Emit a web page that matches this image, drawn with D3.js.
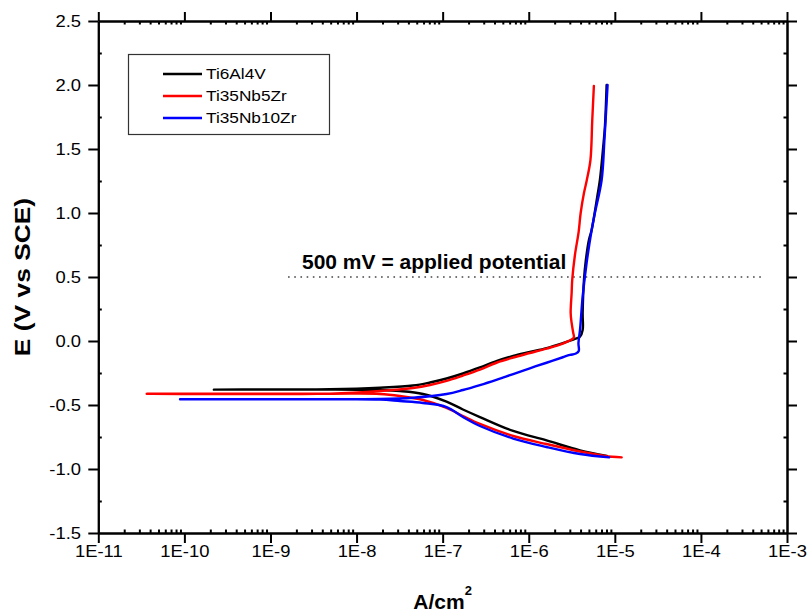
<!DOCTYPE html>
<html><head><meta charset="utf-8">
<script src="https://cdn.jsdelivr.net/npm/d3@7/dist/d3.min.js"></script>
<style>body{margin:0;background:#fff}svg{display:block}</style>
</head><body><svg id="c" width="810" height="615"></svg>
<script>
// ---------- data ----------
const seriesNames = ["Ti6Al4V", "Ti35Nb5Zr", "Ti35Nb10Zr"];
const seriesColors = ["#000000", "#ff0000", "#0000ff"];

// Ti6Al4V (scan order: cathodic -> anodic)
const ti64_E = [-0.898, -0.854, -0.777, -0.703, -0.594, -0.535, -0.474, -0.414, -0.391, -0.383, -0.379, -0.380, -0.380,
  -0.379, -0.377, -0.365, -0.348, -0.324, -0.293, -0.254, -0.207, -0.156, -0.117, -0.086, -0.055, -0.016, 0.016, 0.034,
  0.086, 0.219, 0.477, 0.633, 0.789, 0.867, 1.127, 1.258, 1.518, 1.674, 2.000];
const ti64_I = [8.09e-6, 3.94e-6, 1.61e-6, 6.6e-7, 2.71e-7, 1.72e-7, 1.11e-7, 5.9e-8, 3.19e-8, 1.87e-8, 4.9e-9, 7.5e-10, 2.2e-10,
  7.5e-10, 4.9e-9, 1.87e-8, 4.52e-8, 7.13e-8, 1.11e-7, 1.72e-7, 2.71e-7, 4.28e-7, 6.6e-7, 1.03e-6, 1.61e-6, 2.49e-6, 3.44e-6, 3.94e-6,
  4.23e-6, 4.23e-6, 4.38e-6, 4.61e-6, 5.0e-6, 5.38e-6, 6.25e-6, 6.71e-6, 7.33e-6, 7.67e-6, 8.03e-6];

// Ti35Nb5Zr
const nb5_E = [-0.909, -0.898, -0.863, -0.805, -0.742, -0.648, -0.586, -0.523, -0.461, -0.430, -0.414, -0.412, -0.412,
  -0.411, -0.391, -0.367, -0.344, -0.312, -0.270, -0.223, -0.168, -0.129, -0.094, -0.059, -0.020, 0.021, 0.034,
  0.063, 0.141, 0.219, 0.375, 0.477, 0.672, 0.852, 1.000, 1.156, 1.258, 1.414, 1.727, 1.992];
const nb5_I = [1.2e-5, 7.67e-6, 3.94e-6, 1.61e-6, 6.6e-7, 2.71e-7, 1.72e-7, 1.11e-7, 5.9e-8, 3.19e-8, 1.87e-8, 4.9e-9, 3.65e-11,
  4.9e-9, 1.87e-8, 4.52e-8, 7.13e-8, 1.11e-7, 1.72e-7, 2.71e-7, 4.28e-7, 6.6e-7, 1.03e-6, 1.61e-6, 2.49e-6, 3.29e-6, 3.35e-6,
  3.29e-6, 3.15e-6, 3.07e-6, 3.15e-6, 3.2e-6, 3.44e-6, 3.8e-6, 4.01e-6, 4.38e-6, 4.73e-6, 5.21e-6, 5.47e-6, 5.71e-6];

// Ti35Nb10Zr
const nb10_E = [-0.909, -0.883, -0.828, -0.762, -0.664, -0.594, -0.516, -0.484, -0.469, -0.457, -0.455, -0.455,
  -0.454, -0.453, -0.443, -0.414, -0.383, -0.344, -0.301, -0.258, -0.213, -0.170, -0.127, -0.109, -0.098, -0.078,
  -0.016, 0.086, 0.346, 0.609, 0.867, 1.000, 1.258, 1.570, 2.000];
const nb10_I = [8.6e-6, 3.94e-6, 1.61e-6, 6.6e-7, 2.71e-7, 1.72e-7, 1.11e-7, 5.9e-8, 3.19e-8, 1.87e-8, 4.9e-9, 8.9e-11,
  4.9e-9, 1.87e-8, 4.52e-8, 1.11e-7, 1.72e-7, 2.71e-7, 4.28e-7, 6.6e-7, 1.03e-6, 1.61e-6, 2.49e-6, 3.01e-6, 3.53e-6, 3.81e-6,
  3.78e-6, 3.94e-6, 4.23e-6, 4.7e-6, 5.38e-6, 5.87e-6, 7.03e-6, 7.57e-6, 8.24e-6];

const xTicks = [1e-11, 1e-10, 1e-9, 1e-8, 1e-7, 1e-6, 1e-5, 1e-4, 1e-3];
const xTickLabels = ["1E-11", "1E-10", "1E-9", "1E-8", "1E-7", "1E-6", "1E-5", "1E-4", "1E-3"];
const yTicks = [-1.5, -1.0, -0.5, 0.0, 0.5, 1.0, 1.5, 2.0, 2.5];
const yTickLabels = ["-1.5", "-1.0", "-0.5", "0.0", "0.5", "1.0", "1.5", "2.0", "2.5"];
const yMinorTicks = [-1.25, -0.75, -0.25, 0.25, 0.75, 1.25, 1.75, 2.25];
const xTitle = "A/cm", xTitleSup = "2";
const yTitle = "E (V vs SCE)";
const appliedPotential = 0.5;
const appliedRange = [1.6e-9, 5.5e-4];
const appliedLabel = "500 mV = applied potential";

// ---------- layout ----------
const L = 98.3, R = 787, T = 21, B = 533;
const FONT = "'Liberation Sans', Arial, sans-serif";
const svg = d3.select("#c");
const x = d3.scaleLog().domain([1e-11, 1e-3]).range([L, R]);
const y = d3.scaleLinear().domain([-1.5, 2.5]).range([B, T]);

const xMinor = [];
for (let d = -11; d < -3; d++) for (let k = 2; k <= 9; k++) xMinor.push(k * Math.pow(10, d));

function styleAxis(g) {
  g.selectAll("path.domain").attr("stroke", "#000").attr("stroke-width", 2);
  g.selectAll(".tick line").attr("stroke", "#000").attr("stroke-width", 2);
}

// bottom
const gB = svg.append("g").attr("transform", `translate(0,${B})`)
  .call(d3.axisBottom(x).tickValues(xTicks).tickFormat((d, i) => xTickLabels[i]).tickSize(10).tickSizeOuter(0));
gB.selectAll(".tick text").attr("y", 24.4).attr("dy", 0)
  .attr("transform", "scale(1.15,1)").style("font-family", FONT).style("font-size", "16px").attr("fill", "#000");
svg.append("g").attr("transform", `translate(0,${B})`)
  .call(d3.axisBottom(x).tickValues(xMinor).tickFormat("").tickSize(-3.5).tickSizeOuter(0)).call(styleAxis);
styleAxis(gB);

// top
svg.append("g").attr("transform", `translate(0,${T})`)
  .call(d3.axisTop(x).tickValues(xTicks).tickFormat("").tickSize(9).tickSizeOuter(0)).call(styleAxis);
svg.append("g").attr("transform", `translate(0,${T})`)
  .call(d3.axisTop(x).tickValues(xMinor).tickFormat("").tickSize(-3.5).tickSizeOuter(0)).call(styleAxis);

// left
const gL = svg.append("g").attr("transform", `translate(${L},0)`)
  .call(d3.axisLeft(y).tickValues(yTicks).tickFormat((d, i) => yTickLabels[i]).tickSize(10).tickSizeOuter(0));
gL.selectAll(".tick text").attr("x", 0).attr("dy", "0.36em")
  .attr("transform", "translate(-17.3,0) scale(1.15,1)").style("font-family", FONT).style("font-size", "16px").attr("fill", "#000");
styleAxis(gL);
svg.append("g").attr("transform", `translate(${L},0)`)
  .call(d3.axisLeft(y).tickValues(yMinorTicks).tickFormat("").tickSize(-3.5).tickSizeOuter(0)).call(styleAxis);

// right
svg.append("g").attr("transform", `translate(${R},0)`)
  .call(d3.axisRight(y).tickValues(yTicks).tickFormat("").tickSize(10).tickSizeOuter(0)).call(styleAxis);
svg.append("g").attr("transform", `translate(${R},0)`)
  .call(d3.axisRight(y).tickValues(yMinorTicks).tickFormat("").tickSize(-3.5).tickSizeOuter(0)).call(styleAxis);

// applied potential line
svg.append("line")
  .attr("x1", x(appliedRange[0])).attr("x2", x(appliedRange[1]))
  .attr("y1", y(appliedPotential)).attr("y2", y(appliedPotential))
  .attr("stroke", "#444").attr("stroke-width", 1.6).attr("stroke-dasharray", "1.6,4.6");
svg.append("text").attr("x", 302).attr("y", 268.5)
  .style("font-family", FONT).style("font-size", "21px").style("font-weight", "bold")
  .text(appliedLabel);

// curves
const series = [
  { E: ti64_E, I: ti64_I },
  { E: nb5_E, I: nb5_I },
  { E: nb10_E, I: nb10_I }
];
const line = d3.line().x(d => x(d[1])).y(d => y(d[0])).curve(d3.curveCatmullRom.alpha(0.5));
series.forEach((s, k) => {
  const pts = s.E.map((e, i) => [e, s.I[i]]);
  svg.append("path").attr("d", line(pts)).attr("fill", "none")
    .attr("stroke", seriesColors[k]).attr("stroke-width", 2.4)
    .attr("stroke-linejoin", "round").attr("stroke-linecap", "round");
});

// legend
const lg = svg.append("g");
lg.append("rect").attr("x", 128.5).attr("y", 54.5).attr("width", 201).attr("height", 80)
  .attr("fill", "#fff").attr("stroke", "#333").attr("stroke-width", 1.2);
seriesNames.forEach((n, i) => {
  const yy = 74 + i * 22;
  lg.append("line").attr("x1", 163).attr("x2", 202).attr("y1", yy).attr("y2", yy)
    .attr("stroke", seriesColors[i]).attr("stroke-width", 2.4);
  lg.append("text").attr("transform", `translate(206,${yy}) scale(1.15,1)`).attr("dy", "0.36em")
    .style("font-family", FONT).style("font-size", "15px").text(n);
});

// axis titles
const xt = svg.append("text").attr("x", (L + R) / 2).attr("y", 609).attr("text-anchor", "middle")
  .style("font-family", FONT).style("font-size", "21px").style("font-weight", "bold");
xt.append("tspan").text(xTitle);
xt.append("tspan").attr("dy", -14).style("font-size", "13px").text(xTitleSup);

svg.append("text").attr("transform", `translate(30,277) rotate(-90) scale(1.2,1)`).attr("text-anchor", "middle")
  .style("font-family", FONT).style("font-size", "22px").style("font-weight", "bold")
  .text(yTitle);
</script></body></html>
